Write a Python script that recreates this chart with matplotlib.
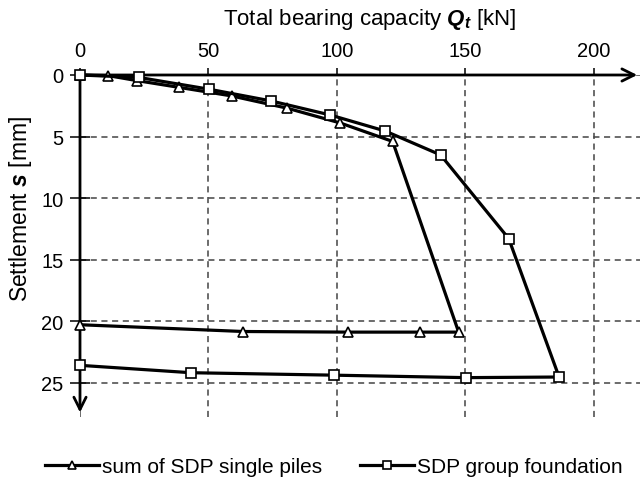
import matplotlib.pyplot as plt

plt.rcParams['font.family'] = ['Liberation Sans', 'DejaVu Sans']
plt.rcParams['mathtext.fontset'] = 'custom'
plt.rcParams['mathtext.bf'] = 'Liberation Sans:italic:bold'
plt.rcParams['mathtext.rm'] = 'Liberation Sans'

# sum of SDP single piles (loading, then unloading)
single_q = [0, 11, 22, 38.4, 59, 80.7, 101.3, 121.7, 147.4, 132.4, 104.2, 63.5, 0]
single_s = [0, 0.05, 0.45, 1.0, 1.7, 2.7, 3.9, 5.4, 20.9, 20.9, 20.9, 20.85, 20.3]

# SDP group foundation
group_q = [0, 23, 50.1, 74.2, 97.4, 118.75, 140.4, 166.9, 186.5, 150.1, 99, 43.2, 0]
group_s = [0, 0.2, 1.15, 2.1, 3.25, 4.55, 6.5, 13.3, 24.55, 24.6, 24.4, 24.2, 23.6]

x_ticks = [0, 50, 100, 150, 200]
y_ticks = [0, 5, 10, 15, 20, 25]

fig = plt.figure(figsize=(6.4, 4.81), dpi=100)
ax = fig.add_axes([80 / 640, 1 - 418 / 481, 560 / 640, (418 - 76) / 481])

ax.plot(single_q, single_s, color='k', lw=2.3, marker='^', ms=7,
        mfc='white', mec='k', mew=1.2, label='sum of SDP single piles', clip_on=False, zorder=4)
ax.plot(group_q, group_s, color='k', lw=2.3, marker='s', ms=6.5,
        mfc='white', mec='k', mew=1.2, label='SDP group foundation', clip_on=False, zorder=4)

ax.set_xlim(0, 218)
ax.set_ylim(27.8, 0)
ax.xaxis.tick_top()
ax.set_xticks(x_ticks)
ax.set_yticks(y_ticks)
ax.tick_params(axis='x', labelsize=14.5, length=5, width=1.1, direction='out', pad=6)
ax.tick_params(axis='y', labelsize=14.5, length=14, width=1.1, direction='inout', pad=5)
ax.grid(True, ls=(0, (4, 3)), color='#444444', lw=1.1)
for sp in ax.spines.values():
    sp.set_visible(False)

# axis arrows
ax.annotate('', xy=(1.0, 1.0), xytext=(0, 1.0), xycoords='axes fraction',
            arrowprops=dict(arrowstyle='->', color='k', lw=2, mutation_scale=22))
ax.annotate('', xy=(0, 0.005), xytext=(0, 1.0), xycoords='axes fraction',
            arrowprops=dict(arrowstyle='->', color='k', lw=2, mutation_scale=22))

fig.text(370 / 640, 1 - 20 / 481, r'Total bearing capacity $\mathbf{Q_t}$ [kN]', fontsize=16,
         ha='center', va='center')
fig.text(21 / 640, 1 - 209 / 481, r'Settlement $\mathbf{s}$ [mm]', fontsize=16.5, rotation=90,
         ha='center', va='center')

fig.legend(loc='center', bbox_to_anchor=(334 / 640, 1 - 468 / 481), ncol=2, frameon=False,
           fontsize=15, handlelength=2.6, handletextpad=0.15, columnspacing=1.8,
           borderpad=0, markerscale=0.85)

fig.savefig('out.png', dpi=100)
